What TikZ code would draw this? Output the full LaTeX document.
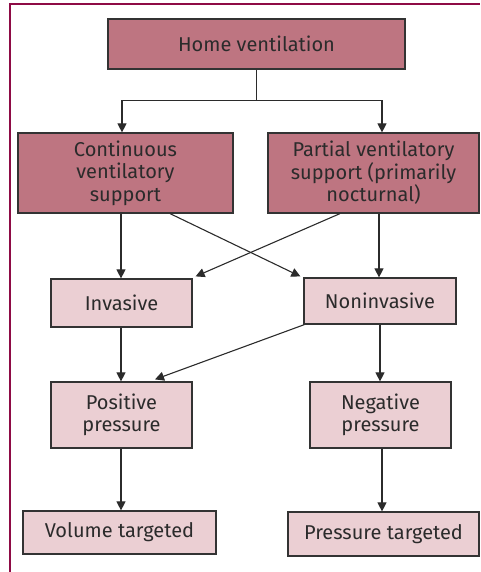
\documentclass[tikz,border=0pt]{standalone}
\usepackage{fontspec}
\setmainfont{Fira Sans}
\usetikzlibrary{arrows.meta}
\definecolor{frame}{HTML}{8E0B45}
\definecolor{dark}{HTML}{BE7581}
\definecolor{light}{HTML}{EBCFD3}
\definecolor{edge}{HTML}{333333}
\definecolor{ink}{HTML}{2B2B2B}
\tikzset{
  box/.style={draw=edge, line width=1.2pt, rectangle, inner sep=0pt, align=center,
    text=ink, font=\fontsize{20}{22.5}\selectfont},
  darkbox/.style={box, fill=dark},
  lightbox/.style={box, fill=light},
  arr/.style={draw=ink, line width=1.1pt, -{Triangle[length=9pt,width=9pt]}},
  ln/.style={draw=ink, line width=1.1pt}
}
\begin{document}
\begin{tikzpicture}[x=1pt,y=-1pt]
\useasboundingbox (0,0) rectangle (480,572);
\draw[frame, line width=2.5pt] (9.75,572) -- (9.75,4.25) -- (480,4.25);
\node[darkbox, minimum width=297pt, minimum height=50pt] (home) at (256.5,44) {Home ventilation};
\node[darkbox, minimum width=215pt, minimum height=80pt] (cont) at (125.5,173) {Continuous\\ventilatory\\support};
\node[darkbox, minimum width=211pt, minimum height=80pt] (part) at (373.5,173) {Partial ventilatory\\support (primarily\\nocturnal)};
\node[lightbox, minimum width=141pt, minimum height=48pt] (inv) at (121.5,303) {Invasive};
\node[lightbox, minimum width=152pt, minimum height=46pt] (non) at (380,301) {Noninvasive};
\node[lightbox, minimum width=141pt, minimum height=66pt] (pos) at (121.5,415) {Positive\\pressure};
\node[lightbox, minimum width=141pt, minimum height=66pt] (neg) at (380.5,415) {Negative\\pressure};
\node[lightbox, minimum width=193pt, minimum height=43pt] (vol) at (119.5,532.5) {Volume targeted};
\node[lightbox, minimum width=191pt, minimum height=44pt] (prs) at (383.5,534) {Pressure targeted};
\coordinate (j) at ([yshift=-31pt]home.south);
\draw[ln] (home.south) -- (j);
\draw[arr] (j) -| ([xshift=-3.5pt]cont.north);
\draw[arr] (j) -| ([xshift=8.5pt]part.north);
\draw[arr] ([xshift=-4.5pt]cont.south) -- ([xshift=-0.5pt]inv.north);
\draw[arr] ([xshift=5.5pt]part.south) -- ([xshift=-1pt]non.north);
\draw[arr] ([xshift=44.5pt]cont.south) -- ([xshift=-3pt,yshift=1pt]non.north west);
\draw[arr] ([xshift=-33.5pt]part.south) -- ([xshift=3pt,yshift=2pt]inv.north east);
\draw[arr] ([xshift=-0.5pt]inv.south) -- ([xshift=-0.5pt]pos.north);
\draw[arr] ([xshift=1pt]non.south west) -- ([xshift=33.5pt,yshift=2pt]pos.north);
\draw[arr] (non.south) -- ([xshift=-0.5pt]neg.north);
\draw[arr] ([xshift=-0.5pt]pos.south) -- ([xshift=1.5pt]vol.north);
\draw[arr] ([xshift=1.5pt]neg.south) -- ([xshift=-1.5pt]prs.north);
\end{tikzpicture}
\end{document}
